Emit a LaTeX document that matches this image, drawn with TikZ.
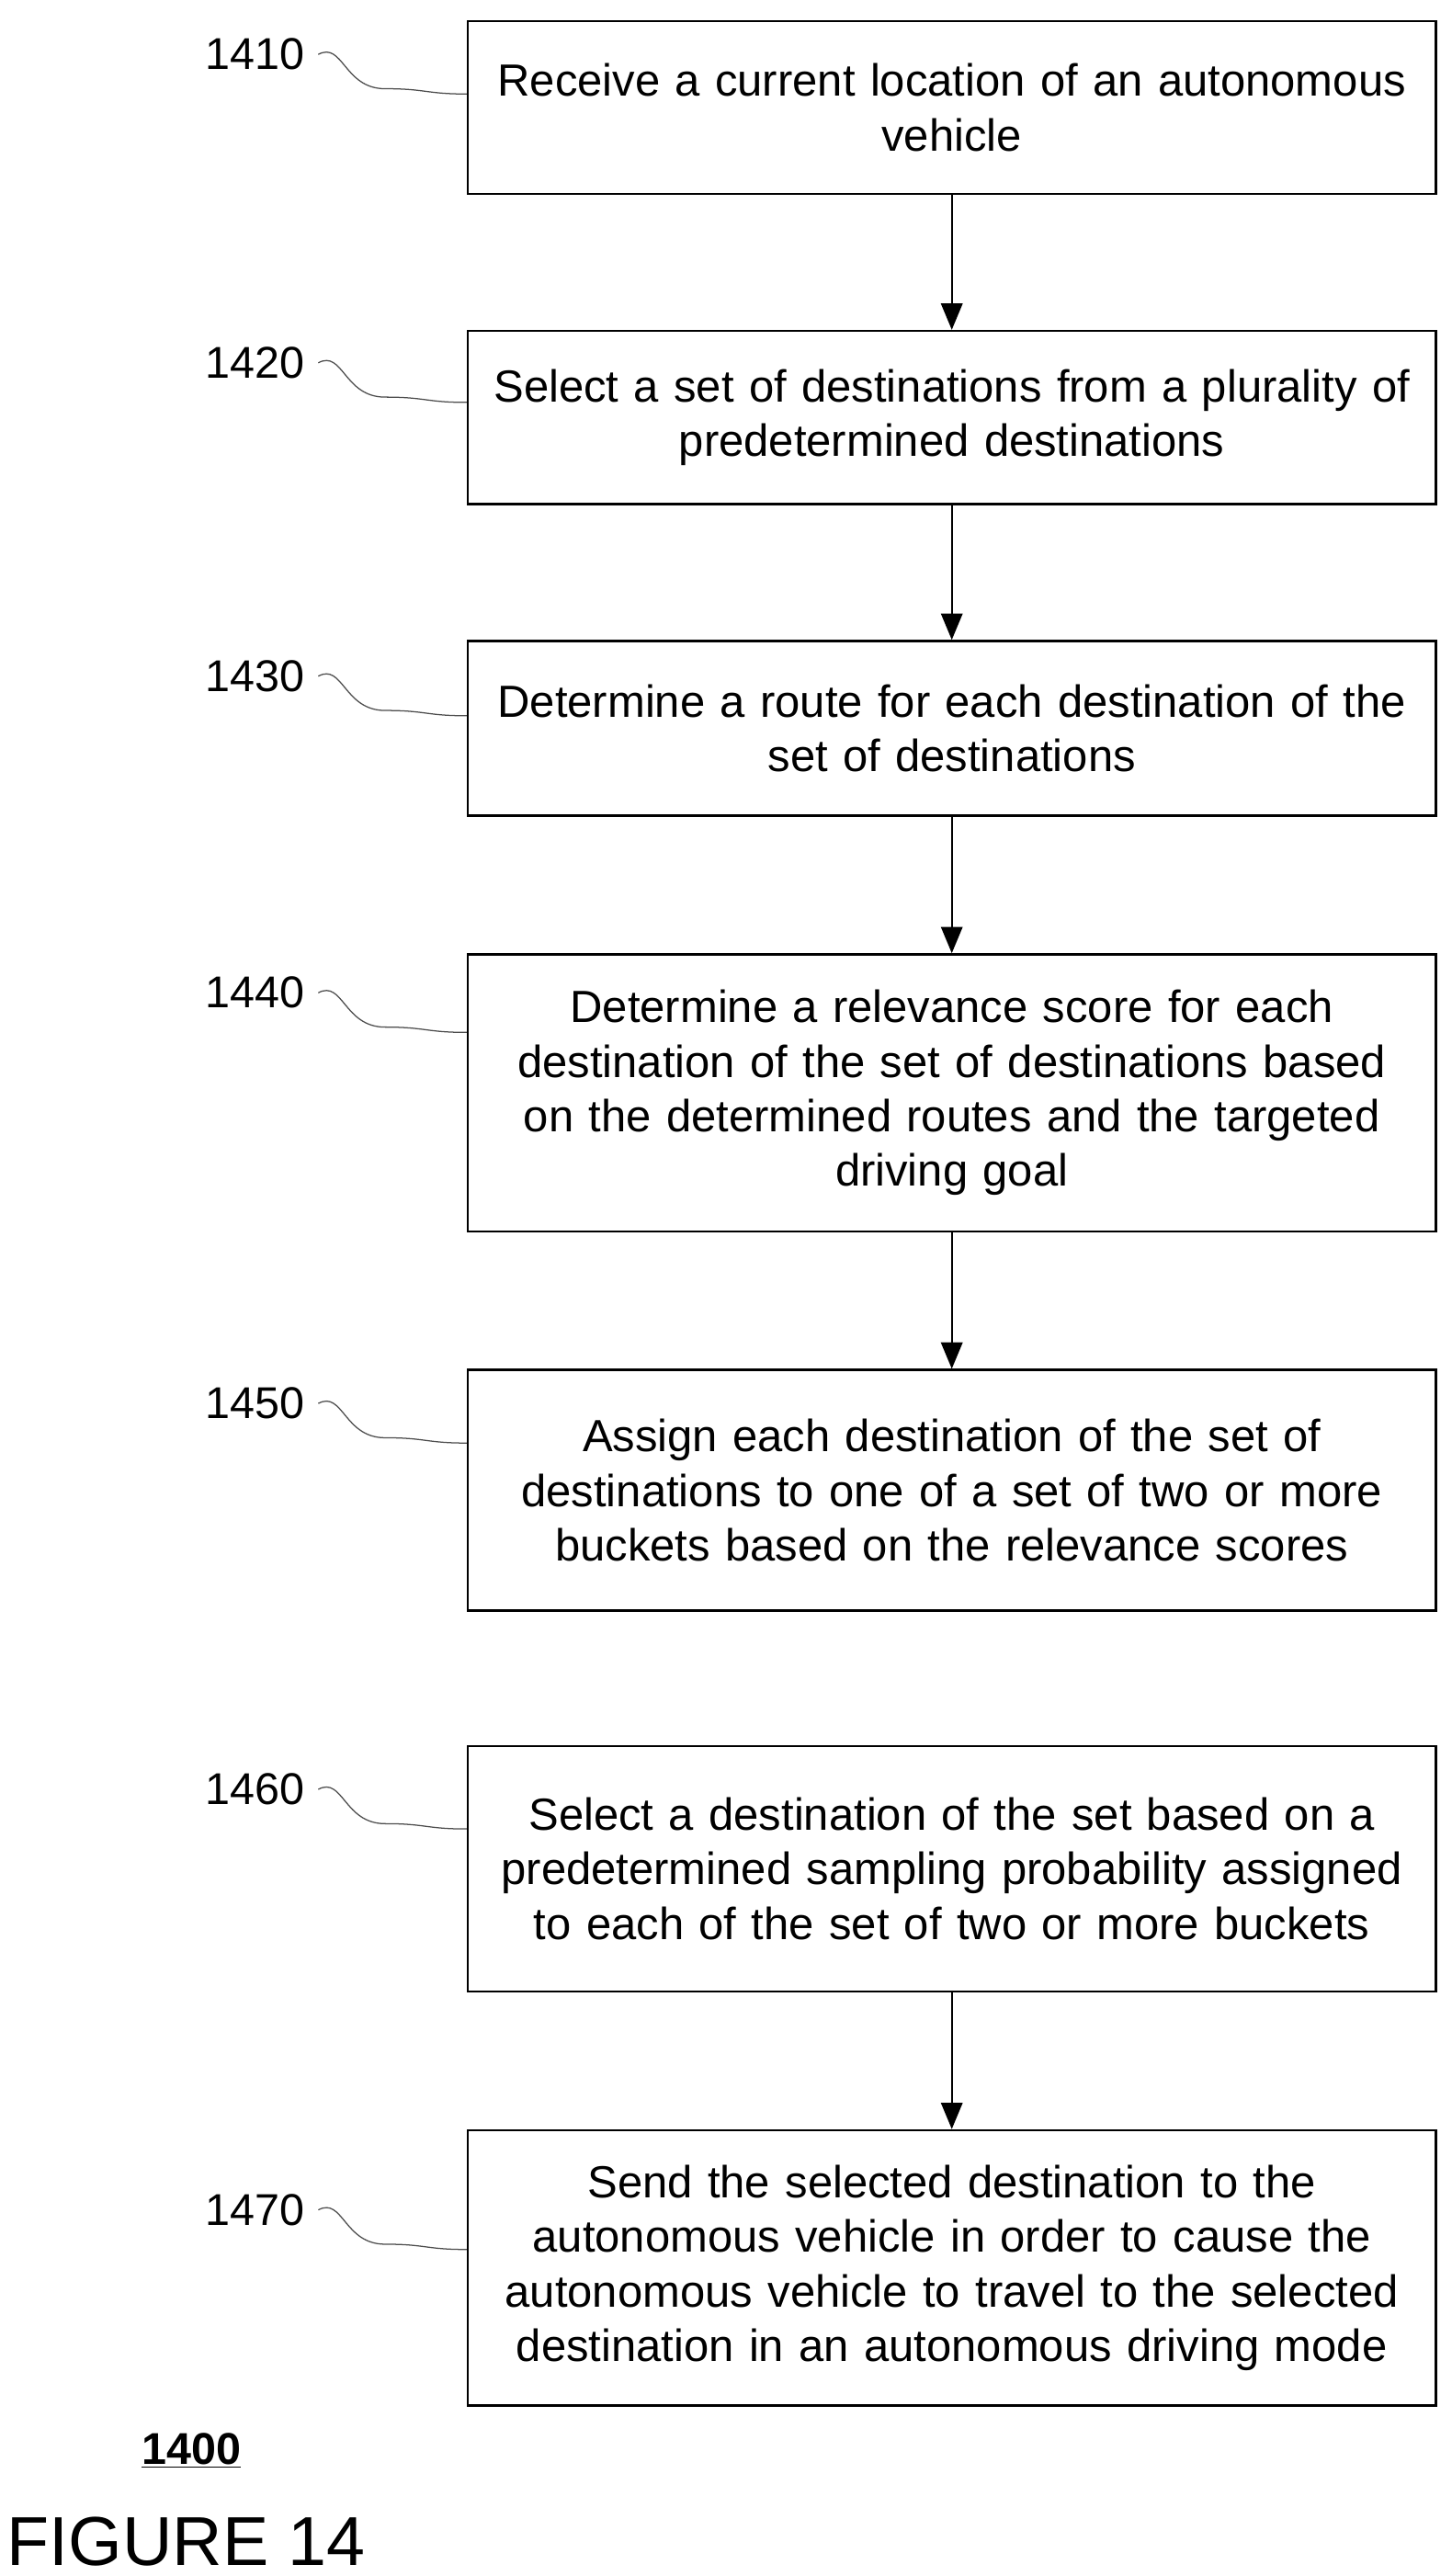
\documentclass[tikz,border=0pt]{standalone}
\usepackage{fontspec}
\setmainfont{Liberation Sans}
\usetikzlibrary{arrows.meta,calc}
\begin{document}
\begin{tikzpicture}[x=1pt,y=-1pt,
  box/.style={draw,line width=1.3pt,minimum width=587pt,inner sep=0pt,align=center,font=\fontsize{27.3}{33}\selectfont,text width=585pt},
  lab/.style={font=\fontsize{27}{30}\selectfont,anchor=east},
  arr/.style={-{Triangle[length=16pt,width=13pt]},line width=1.3pt},
  sq/.style={line width=0.7pt,black!70}]
\useasboundingbox (0,0) rectangle (880,1562);
\def\bx#1#2#3#4{\node[box,minimum height=#3-#2 pt,anchor=north west] (#1) at (283,#2) {#4};}
\bx{b1}{12}{117}{Receive a current location of an autonomous\\vehicle}
\bx{b2}{200}{305}{Select a set of destinations from a plurality of\\predetermined destinations}
\bx{b3}{388}{494}{Determine a route for each destination of the\\set of destinations}
\bx{b4}{578}{746}{Determine a relevance score for each\\destination of the set of destinations based\\on the determined routes and the targeted\\driving goal}
\bx{b5}{830}{976}{Assign each destination of the set of\\destinations to one of a set of two or more\\buckets based on the relevance scores}
\bx{b6}{1058}{1207}{Select a destination of the set based on a\\predetermined sampling probability assigned\\to each of the set of two or more buckets}
\bx{b7}{1291}{1458}{Send the selected destination to the\\autonomous vehicle in order to cause the\\autonomous vehicle to travel to the selected\\destination in an autonomous driving mode}
\foreach \a/\b in {b1/b2,b2/b3,b3/b4,b4/b5,b6/b7} \draw[arr] (\a) -- (\b);
\foreach \n/\y/\t in {l1/33/1410,l2/220/1420,l3/410/1430,l4/602/1440,l5/851/1450,l6/1085/1460,l7/1340/1470}{
  \node[lab] (\n) at (188,\y) {\t};
  \coordinate (\n s) at (193,\y);
  \coordinate (\n e) at (283,\y+24);
  \draw[sq] (\n s) .. controls ++(15,-8) and ++(-25,0) .. ($(\n s)!0.45!(\n e)+(0,10)$) .. controls ++(25,0) and ++(-25,0) .. (\n e);
}
\node[font=\bfseries\fontsize{27}{30}\selectfont] (n1400) at (116,1486) {\underline{1400}};
\node[font=\fontsize{42}{46}\selectfont,anchor=west,inner sep=0pt] (fig) at (4,1541) {FIGURE 14};
\end{tikzpicture}
\end{document}
